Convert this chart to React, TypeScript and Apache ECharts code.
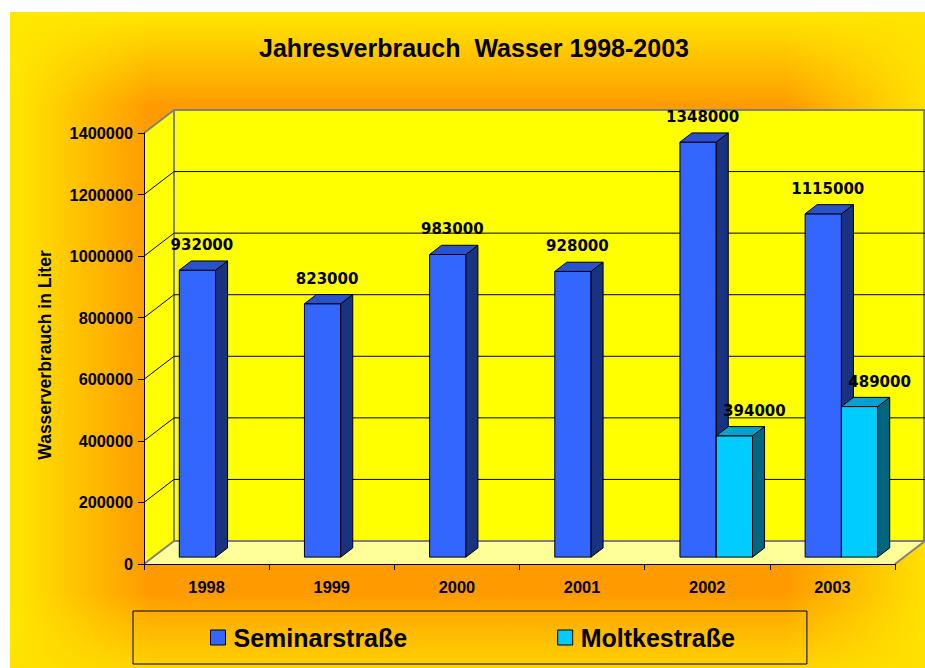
import React, { useEffect, useRef } from "react";
import * as echarts from "echarts";

// ---------- data ----------
const YEARS = ["1998", "1999", "2000", "2001", "2002", "2003"];
const SEMINAR = [932000, 823000, 983000, 928000, 1348000, 1115000];
const MOLTKE: (number | null)[] = [null, null, null, null, 394000, 489000];
const Y_TICKS = [0, 200000, 400000, 600000, 800000, 1000000, 1200000, 1400000];
const SERIES_NAMES = ["Seminarstraße", "Moltkestraße"];
const TITLE = "Jahresverbrauch  Wasser 1998-2003";
const Y_NAME = "Wasserverbrauch in Liter";

// ---------- style constants ----------
const ARIAL = '"Liberation Sans", Arial, sans-serif';
const DX = 30; // 3D depth offset x
const DY = -23; // 3D depth offset y
const FRONT = 0.3;
const BACK = 0.7;
const BAR_FRAC = 0.29;
const LABEL_RISE = 25;

const SEM_COLORS = { front: "#3366FF", side: "#1A3380", top: "#2952CC" };
const MOL_COLORS = { front: "#00CCFF", side: "#006680", top: "#00A3CC" };

function barRenderer(side: number, colors: any, labelDx: number) {
  return (params: any, api: any) => {
    const cat = api.value(0);
    const val = api.value(1);
    const p = api.coord([cat, val]);
    const p0 = api.coord([cat, 0]);
    const band = api.size([1, 0])[0];
    const bw = band * BAR_FRAC;
    const fx = DX * FRONT;
    const fy = DY * FRONT;
    const sx = DX * (BACK - FRONT);
    const sy = DY * (BACK - FRONT);
    const left = p[0] + fx - (side === 0 ? bw : 0);
    const right = left + bw;
    const top = p[1] + fy;
    const bottom = p0[1] + fy;
    const edge = { stroke: "#000", lineWidth: 1, lineJoin: "round" };
    return {
      type: "group",
      children: [
        {
          type: "polygon",
          shape: { points: [[left, top], [right, top], [right, bottom], [left, bottom]] },
          style: { fill: colors.front, ...edge },
        },
        {
          type: "polygon",
          shape: { points: [[right, top], [right + sx, top + sy], [right + sx, bottom + sy], [right, bottom]] },
          style: { fill: colors.side, ...edge },
        },
        {
          type: "polygon",
          shape: { points: [[left, top], [left + sx, top + sy], [right + sx, top + sy], [right, top]] },
          style: { fill: colors.top, ...edge },
        },
        {
          type: "text",
          x: left + bw / 2 + labelDx,
          y: top - LABEL_RISE,
          style: {
            text: String(val),
            fill: "#000",
            font: 'bold 15px "DejaVu Sans", sans-serif',
            textAlign: "center",
            textVerticalAlign: "middle",
            align: "center",
            verticalAlign: "middle",
          },
        },
      ],
    };
  };
}

function frameRenderer(params: any, api: any) {
  const cs = params.coordSys;
  const v = api.value(1);
  const y = api.coord([0, v])[1];
  const xL = cs.x;
  const xR = cs.x + cs.width;
  const yTop = cs.y;
  const yBot = cs.y + cs.height;
  const children: any[] = [];
  const gray = { stroke: "#808080", lineWidth: 2 };
  const black = { stroke: "#000", lineWidth: 1 };
  const isEdge = Math.abs(y - yTop) < 0.5 || Math.abs(y - yBot) < 0.5;
  if (params.dataIndex === 0) {
    children.push({
      type: "polygon",
      shape: { points: [[xL + DX, yTop + DY], [xR + DX, yTop + DY], [xR + DX, yBot + DY], [xL + DX, yBot + DY]] },
      style: { fill: "#FFFF00" },
    });
    children.push({
      type: "polygon",
      shape: { points: [[xL, yTop], [xL + DX, yTop + DY], [xL + DX, yBot + DY], [xL, yBot]] },
      style: { fill: "#FFFF00" },
    });
    children.push({
      type: "polygon",
      shape: { points: [[xL, yBot], [xR, yBot], [xR + DX, yBot + DY], [xL + DX, yBot + DY]] },
      style: { fill: "#FFFF99" },
    });
    children.push({ type: "line", shape: { x1: xL + DX, y1: yTop + DY, x2: xL + DX, y2: yBot + DY }, style: gray });
    children.push({ type: "line", shape: { x1: xR + DX - 1, y1: yTop + DY, x2: xR + DX - 1, y2: yBot + DY }, style: gray });
    children.push({ type: "line", shape: { x1: xR, y1: yBot, x2: xR + DX, y2: yBot + DY }, style: gray });
  }
  children.push({
    type: "line",
    shape: { x1: xL + DX, y1: y + DY, x2: xR + DX, y2: y + DY },
    style: isEdge ? gray : black,
  });
  children.push({
    type: "line",
    shape: { x1: xL, y1: y, x2: xL + DX, y2: y + DY },
    style: isEdge ? gray : black,
  });
  return { type: "group", children };
}

function band(shape: any, x2: number, y2: number, from: string, to: string) {
  return {
    type: "rect",
    z: -9,
    silent: true,
    shape,
    style: {
      fill: {
        type: "linear",
        x: 0,
        y: 0,
        x2,
        y2,
        colorStops: [
          { offset: 0, color: from },
          { offset: 1, color: to },
        ],
      },
    },
  };
}

export default function App() {
  const ref = useRef<HTMLDivElement>(null);
  useEffect(() => {
    if (!ref.current) return;
    const chart = echarts.init(ref.current, undefined, { renderer: "svg" });
    const yellow = "rgba(255,232,0,1)";
    const clear = "rgba(255,232,0,0)";
    const option: any = {
      animation: false,
      backgroundColor: "#fff",
      graphic: {
        elements: [
          { type: "rect", z: -10, silent: true, shape: { x: 10, y: 12, width: 915, height: 656 }, style: { fill: "#FF9A00" } },
          band({ x: 10, y: 12, width: 140, height: 656 }, 1, 0, yellow, clear),
          band({ x: 10, y: 12, width: 915, height: 95 }, 0, 1, yellow, clear),
          band({ x: 785, y: 12, width: 140, height: 656 }, 1, 0, clear, "rgba(255,228,0,0.95)"),
          band({ x: 10, y: 592, width: 915, height: 76 }, 0, 1, clear, "rgba(255,225,0,0.8)"),
          {
            type: "text",
            z: 10,
            x: 474,
            y: 47.5,
            style: {
              text: TITLE,
              fill: "#000",
              font: "bold 25px " + ARIAL,
              textAlign: "center",
              textVerticalAlign: "middle",
              align: "center",
              verticalAlign: "middle",
            },
          },
          {
            type: "text",
            z: 10,
            x: 45,
            y: 355,
            rotation: Math.PI / 2,
            style: {
              text: Y_NAME,
              fill: "#000",
              font: "bold 17.5px " + ARIAL,
              textAlign: "center",
              textVerticalAlign: "middle",
              align: "center",
              verticalAlign: "middle",
            },
          },
        ],
      },
      grid: { left: 144, top: 133, width: 751, height: 431, containLabel: false },
      legend: {
        data: SERIES_NAMES.map((n) => ({ name: n, icon: "rect" })),
        left: 133,
        top: 611,
        orient: "horizontal",
        itemWidth: 15,
        itemHeight: 15,
        itemGap: 150,
        padding: [14, 72, 14, 77],
        borderColor: "#000",
        borderWidth: 1,
        backgroundColor: "transparent",
        selectedMode: false,
        itemStyle: { borderColor: "#000", borderWidth: 1 },
        textStyle: { fontSize: 25, fontWeight: "bold", color: "#000", fontFamily: ARIAL, padding: [0, 0, 0, 3] },
      },
      xAxis: {
        type: "category",
        data: YEARS,
        boundaryGap: true,
        z: 5,
        axisLine: { show: true, lineStyle: { color: "#000", width: 1 } },
        axisTick: { show: true, length: 6, lineStyle: { color: "#000" } },
        axisLabel: { margin: 15, fontSize: 16.4, fontWeight: "bold", color: "#000", fontFamily: ARIAL },
        splitLine: { show: false },
      },
      yAxis: {
        type: "value",
        min: 0,
        max: 1400000,
        interval: 200000,
        z: 5,
        axisLine: { show: true, lineStyle: { color: "#000", width: 1 } },
        axisTick: { show: true, length: 6, lineStyle: { color: "#000" } },
        axisLabel: {
          margin: 11,
          fontSize: 16.3,
          fontWeight: "bold",
          color: "#000",
          fontFamily: ARIAL,
          formatter: (v: number) => String(v),
        },
        splitLine: { show: false },
      },
      series: [
        {
          type: "custom",
          name: "frame",
          coordinateSystem: "cartesian2d",
          renderItem: frameRenderer,
          data: Y_TICKS.map((v) => [0, v]),
          encode: { x: 0, y: 1 },
          z: 1,
          clip: false,
          silent: true,
        },
        {
          type: "custom",
          name: SERIES_NAMES[0],
          coordinateSystem: "cartesian2d",
          renderItem: barRenderer(0, SEM_COLORS, 4.5),
          data: SEMINAR.map((v, i) => [i, v]),
          encode: { x: 0, y: 1 },
          itemStyle: { color: SEM_COLORS.front },
          z: 3,
          clip: false,
          silent: true,
        },
        {
          type: "custom",
          name: SERIES_NAMES[1],
          coordinateSystem: "cartesian2d",
          renderItem: barRenderer(1, MOL_COLORS, 20),
          data: MOLTKE.map((v, i) => [i, v]).filter((d) => d[1] !== null),
          encode: { x: 0, y: 1 },
          itemStyle: { color: MOL_COLORS.front },
          z: 3,
          clip: false,
          silent: true,
        },
      ],
    };
    chart.setOption(option);
    return () => chart.dispose();
  }, []);
  return <div ref={ref} style={{ position: "absolute", left: 0, top: 0, width: 925, height: 668 }} />;
}
